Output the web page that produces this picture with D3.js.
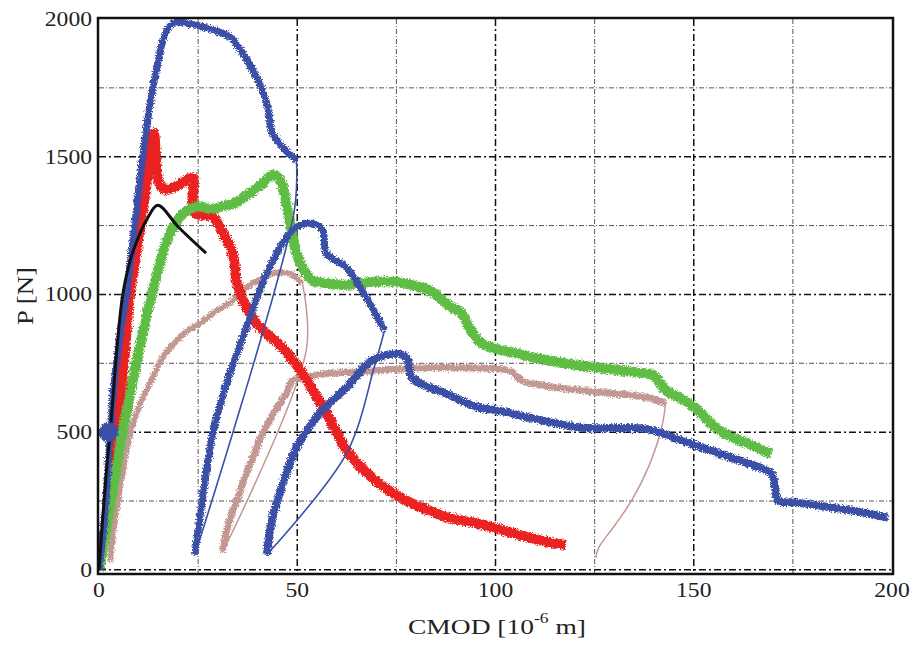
<!DOCTYPE html>
<html>
<head>
<meta charset="utf-8">
<script src="https://cdn.jsdelivr.net/npm/d3@7/dist/d3.min.js"></script>
<style>
  body { margin: 0; background: #fff; }
  text { font-family: "Liberation Serif", "DejaVu Serif", serif; fill: #222; }
</style>
</head>
<body>
<script>
// CMOD [1e-6 m] vs P [N]
const blackCurve = [[0,0],[1,200],[2,380],[3,530],[4.5,800],[6,1000],[8,1130],[10,1210],[12,1270],[14.8,1324],[20,1245],[27,1150]];

const redCurve = [[0,0],[2,200],[4,420],[6,700],[7.8,1000],[10,1200],[12,1400],[13.8,1585],[15.3,1400],[17,1380],[19,1390],[21.5,1410],[23.6,1425],[24,1300],[28.7,1280],[31,1230],[33.7,1150],[35,1030],[39.7,895],[46.3,807],[51.3,713],[57.4,567],[63.1,422],[70.7,313],[77,255],[83.3,215],[88.3,189],[95.8,167],[105,131],[110,112],[117.7,90]];

const greenCurve = [[0,0],[2,160],[4,340],[6,502],[8,650],[10,790],[13.3,1000],[15.3,1110],[17.1,1196],[21,1290],[25,1320],[28,1310],[31,1320],[34,1330],[38,1367],[41,1400],[44,1435],[45.5,1420],[46.5,1380],[48,1280],[49.8,1149],[51.3,1098],[53.8,1051],[58,1040],[62.4,1035],[68,1045],[75,1045],[80,1030],[84,1010],[88.3,960],[91.6,930],[93.3,880],[96.6,822],[104,790],[113.5,760],[125,735],[134,720],[140,705],[141,687],[143,651],[147,620],[151.2,578],[155.5,516],[160,480],[163.8,458],[169.6,420]];

const blueLoad1 = [[0,0],[1.5,200],[2.8,500],[4,700],[5.5,870],[7,1004],[9,1250],[11,1498],[13,1700],[14.6,1825],[17.1,1960],[19.6,1990],[22,1985],[25.4,1975],[30,1955],[33,1935],[36.2,1876],[39.7,1789],[42.3,1695],[43.8,1585],[46.3,1535],[49.8,1487]];
const blueUnload1 = [[49.8,1487],[49.2,1300],[24.2,55]];
const blueLoad2 = [[24.2,55],[26,250],[28.7,494],[31,620],[33,713],[37.2,880],[42.3,1076],[47.3,1207],[49.8,1244],[53.8,1258],[56.4,1233],[57.4,1149],[62.4,1098],[67.4,989],[70.7,905],[72,869]];
const blueUnload2 = [[72,869],[69.5,740],[62.4,422],[42.3,55]];
const blueLoad3 = [[42.3,55],[43.5,170],[45.5,276],[49.8,444],[55.6,567],[62.4,662],[68.9,760],[75,785],[77.5,771],[79,698],[87.5,640],[95.8,589],[100.9,578],[108.4,553],[121.8,516],[130,515],[138.6,510],[147,469],[153,440],[159.5,407],[165,380],[169.6,349],[171.3,251],[175,245],[180.6,235],[190,215],[199,189]];
const blueBlob = [[2.4,500]];

const brownLoad1 = [[2.8,30],[4,180],[5.3,298],[7.8,494],[10,590],[12.8,676],[16,770],[19.6,833],[22.5,870],[25.4,894],[28.7,931],[33.7,978],[37.2,1025],[40,1050],[43.8,1076],[48,1076],[51.3,1040]];
const brownUnload1 = [[51.3,1040],[52.3,800],[31.2,65]];
const brownLoad2 = [[31.2,65],[32.5,160],[34.7,251],[38,380],[41.3,494],[44.5,580],[47.3,640],[48.8,687],[52,700],[58.1,713],[64,718],[70.7,724],[80,733],[87.5,735],[95,733],[103.4,724],[106.7,687],[112,670],[121.8,651],[130,640],[138.6,625],[142.9,604]];
const brownUnload2 = [[142.9,604],[141.9,516],[138.6,374],[134.3,251],[130,160],[126,80],[125.3,44]];

const xTicks = [0, 50, 100, 150, 200];
const yTicks = [0, 500, 1000, 1500, 2000];
const xMinor = [25, 75, 125, 175];
const yMinor = [250, 750, 1250, 1750];

const W = 912, H = 645;
const svg = d3.select("body").append("svg").attr("width", W).attr("height", H);

const x = d3.scaleLinear().domain([0, 200]).range([99, 892]);
const y = d3.scaleLinear().domain([-15, 2000]).range([574, 19]);

// fuzzy edge for the noisy traces
const defs = svg.append("defs");
const f = defs.append("filter").attr("id", "noisy")
  .attr("x", "-5%").attr("y", "-5%").attr("width", "110%").attr("height", "110%");
f.append("feTurbulence").attr("type", "fractalNoise").attr("baseFrequency", "0.6 1.4")
  .attr("numOctaves", 2).attr("seed", 4).attr("result", "t");
f.append("feDisplacementMap").attr("in", "SourceGraphic").attr("in2", "t")
  .attr("scale", 6).attr("xChannelSelector", "R").attr("yChannelSelector", "G");

const clip = defs.append("clipPath").attr("id", "plot");
clip.append("rect").attr("x", x(0)).attr("y", y(2000) - 6)
  .attr("width", x(200) - x(0) + 2).attr("height", y(-15) - y(2000) + 6);

// grid
const grid = svg.append("g");
grid.selectAll(".minx").data(xMinor).join("line")
  .attr("x1", d => x(d)).attr("x2", d => x(d))
  .attr("y1", y(2000)).attr("y2", y(-15))
  .attr("stroke", "#555").attr("stroke-width", 1).attr("stroke-dasharray", "5,2,1,2");
grid.selectAll(".miny").data(yMinor).join("line")
  .attr("y1", d => y(d)).attr("y2", d => y(d))
  .attr("x1", x(0)).attr("x2", x(200))
  .attr("stroke", "#555").attr("stroke-width", 1).attr("stroke-dasharray", "5,2,1,2");
grid.selectAll(".majx").data(xTicks.slice(1, -1)).join("line")
  .attr("x1", d => x(d)).attr("x2", d => x(d))
  .attr("y1", y(2000)).attr("y2", y(-15))
  .attr("stroke", "#111").attr("stroke-width", 1.5).attr("stroke-dasharray", "7,3,2,3");
grid.selectAll(".majy").data(yTicks.slice(0, -1)).join("line")
  .attr("y1", d => y(d)).attr("y2", d => y(d))
  .attr("x1", x(0)).attr("x2", x(200))
  .attr("stroke", "#111").attr("stroke-width", 1.5).attr("stroke-dasharray", "7,3,2,3");

// traces
const line = d3.line().x(d => x(d[0])).y(d => y(d[1])).curve(d3.curveCatmullRom.alpha(0.5));
const plot = svg.append("g").attr("clip-path", "url(#plot)");

const traces = [
  { data: brownLoad1, color: "#c49892", w: 6, noisy: true },
  { data: brownUnload1, color: "#c49892", w: 1.5, noisy: false },
  { data: brownLoad2, color: "#c49892", w: 7, noisy: true },
  { data: brownUnload2, color: "#c49892", w: 1.5, noisy: false },
  { data: redCurve, color: "#ea2320", w: 10, noisy: true },
  { data: greenCurve, color: "#5ebd45", w: 10, noisy: true },
  { data: blueLoad1, color: "#3a4fa6", w: 7, noisy: true },
  { data: blueUnload1, color: "#3a4fa6", w: 1.6, noisy: false },
  { data: blueLoad2, color: "#3a4fa6", w: 7, noisy: true },
  { data: blueUnload2, color: "#3a4fa6", w: 1.6, noisy: false },
  { data: blueLoad3, color: "#3a4fa6", w: 8, noisy: true },
  { data: blackCurve, color: "#111", w: 3, noisy: false }
];

plot.selectAll(".trace").data(traces).join("path")
  .attr("d", d => line(d.data))
  .attr("fill", "none")
  .attr("stroke", d => d.color)
  .attr("stroke-width", d => d.w)
  .attr("stroke-linejoin", "round")
  .attr("filter", d => d.noisy ? "url(#noisy)" : null);

plot.selectAll(".blob").data(blueBlob).join("circle")
  .attr("cx", d => x(d[0])).attr("cy", d => y(d[1])).attr("r", 10)
  .attr("fill", "#3a4fa6").attr("filter", "url(#noisy)");

// frame
svg.append("rect")
  .attr("x", x(0) - 1).attr("y", y(2000) - 1)
  .attr("width", x(200) - x(0) + 2).attr("height", y(-15) - y(2000) + 1)
  .attr("fill", "none").attr("stroke", "#111").attr("stroke-width", 2.5);

// tick labels (the source lettering is a little wide)
svg.selectAll(".xl").data(xTicks).join("text")
  .attr("transform", d => `translate(${x(d)},597) scale(1.18,1)`)
  .attr("text-anchor", "middle").attr("font-size", 20)
  .text(d => d);
svg.selectAll(".yl").data(yTicks).join("text")
  .attr("transform", d => `translate(92,${y(d) + 7}) scale(1.18,1)`)
  .attr("text-anchor", "end").attr("font-size", 20)
  .text(d => d);

// axis titles
const xt = svg.append("text").attr("transform", "translate(497,634) scale(1.25,1)")
  .attr("text-anchor", "middle").attr("font-size", 22);
xt.append("tspan").text("CMOD [10");
xt.append("tspan").attr("font-size", 14).attr("dy", -11).text("-6");
xt.append("tspan").attr("dy", 11).text(" m]");

svg.append("text")
  .attr("transform", "translate(33,296) rotate(-90) scale(1.12,1)")
  .attr("text-anchor", "middle").attr("font-size", 24)
  .text("P [N]");
</script>
</body>
</html>
